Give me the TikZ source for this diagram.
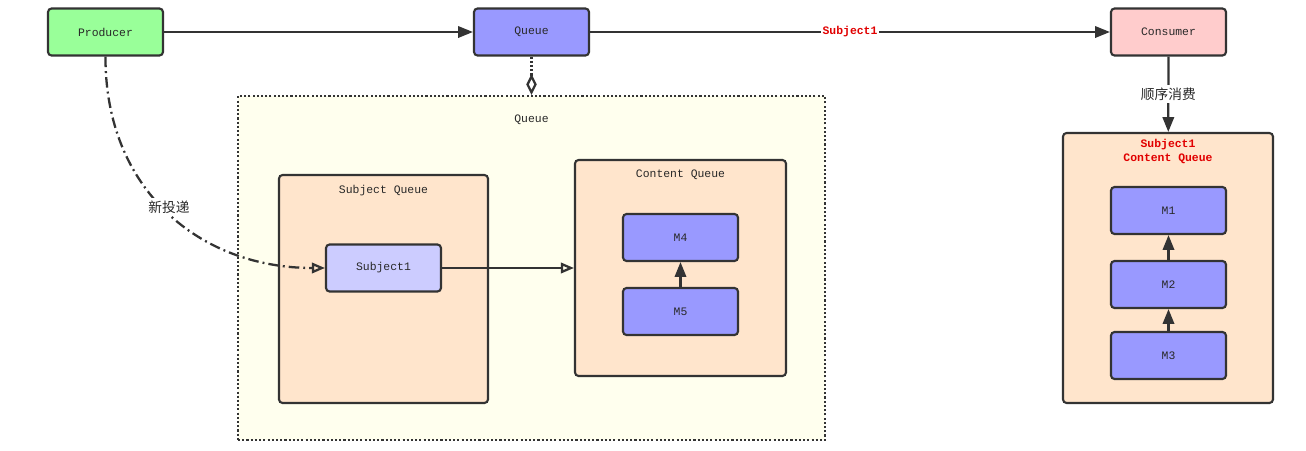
\documentclass[tikz,border=0pt]{standalone}
\usepackage{fontspec}
\setmonofont{Liberation Mono}
\newfontfamily\cjk{Noto Sans CJK SC}
\usetikzlibrary{arrows.meta,positioning}

\definecolor{edgegray}{RGB}{51,51,51}
\definecolor{txtgray}{RGB}{40,40,40}
\definecolor{prodgreen}{RGB}{153,255,153}
\definecolor{queueblue}{RGB}{153,153,255}
\definecolor{lightblue}{RGB}{204,204,255}
\definecolor{conspink}{RGB}{255,204,204}
\definecolor{peach}{RGB}{255,229,204}
\definecolor{paleyellow}{RGB}{255,255,238}
\definecolor{msgred}{RGB}{225,0,0}

\begin{document}
\begin{tikzpicture}[x=0.02cm, y=-0.02cm,
        font=\ttfamily\fontsize{6.5}{7.7}\selectfont, text=txtgray,
        block/.style={draw=edgegray, line width=1.2pt, rounded corners=2pt, minimum width=2.3cm, minimum height=0.94cm, inner sep=0pt},
        holder/.style={draw=edgegray, line width=1.2pt, rounded corners=2pt, fill=peach, inner sep=0pt},
        solidarrow/.style={draw=edgegray, line width=1.3pt, -{Triangle[length=8.5pt,width=6.5pt]}},
        openarrow/.style={draw=edgegray, line width=1.3pt, -{Triangle[open,length=7.5pt,width=6pt]}},
        cn/.style={font=\cjk\fontsize{7.8}{9}\selectfont, fill=white, inner sep=1.5pt},
        redtext/.style={text=msgred, font=\ttfamily\bfseries\fontsize{6.5}{7.7}\selectfont}]
        \useasboundingbox (0,0) rectangle (1306,450);

        % Top row
        \node[block, fill=prodgreen] (producer) at (105.5,32) {Producer};
        \node[block, fill=queueblue] (queue) at (531.5,32) {Queue};
        \node[block, fill=conspink] (consumer) at (1168.5,32) {Consumer};

        \draw[solidarrow] (producer) -- (queue);
        \draw[solidarrow] (queue) -- node[fill=white, inner sep=1pt, redtext] {Subject1} (consumer);

        % Queue detail
        \node[draw=edgegray, line width=1.2pt, dash pattern=on 1.2pt off 1.2pt, fill=paleyellow, inner sep=0pt,
              minimum width=11.74cm, minimum height=6.88cm] (qbox) at (531.5,268) {};
        \node (qtitle) at (531.5,120) {Queue};
        \draw[draw=edgegray, line width=1.3pt, dash pattern=on 1.2pt off 1.2pt,
              -{Diamond[open,length=12pt,width=6pt]}] (queue) -- (qbox);

        \node[holder, minimum width=4.18cm, minimum height=4.56cm] (sq) at (383.5,289) {};
        \node (sqtitle) at (383.5,191) {Subject Queue};
        \node[block, fill=lightblue] (s1) at (383.5,268) {Subject1};

        \node[holder, minimum width=4.22cm, minimum height=4.32cm] (cq) at (680.5,268) {};
        \node (cqtitle) at (680.5,175) {Content Queue};
        \node[block, fill=queueblue] (m4) at (680.5,237.5) {M4};
        \node[block, fill=queueblue] (m5) at (680.5,311.5) {M5};

        \draw[solidarrow] (m5) -- (m4);
        \draw[openarrow] (s1) -- (s1 -| cq.west);

        % New delivery
        \draw[openarrow, dash pattern=on 6pt off 2.3pt on 1.1pt off 2.3pt]
            (producer.south) .. controls (105,190) and (200,268) .. (s1.west);
        \node[cn] (newlbl) at (169,207) {新投递};

        % Consumer side
        \node[holder, minimum width=4.2cm, minimum height=5.4cm] (rq) at (1168,268) {};
        \node[redtext, align=center] (rqtitle) at (1168,151.5) {Subject1\\Content Queue};
        \draw[solidarrow] (consumer) -- node[cn] {顺序消费} (rq);

        \foreach \name/\lbl/\y in {m1/M1/210.5, m2/M2/284.5, m3/M3/355.5}
            \node[block, fill=queueblue] (\name) at (1168.5,\y) {\lbl};
        \draw[solidarrow] (m2) -- (m1);
        \draw[solidarrow] (m3) -- (m2);

    \end{tikzpicture}
\end{document}
